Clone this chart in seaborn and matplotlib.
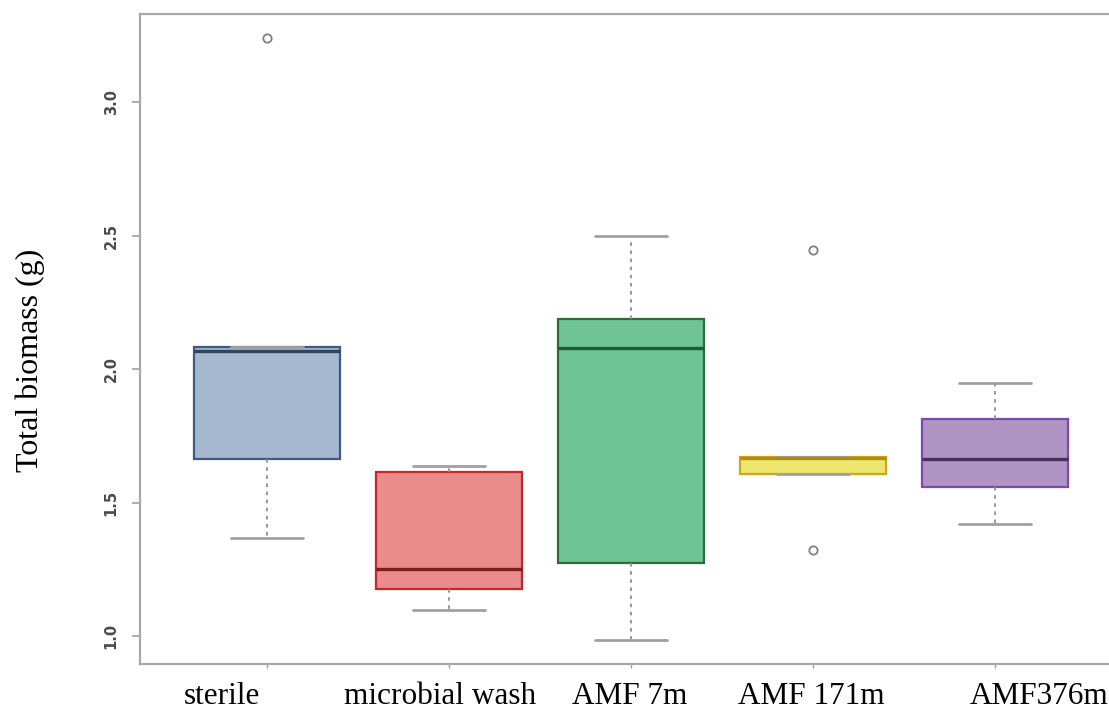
import numpy as np
import pandas as pd
import matplotlib
matplotlib.use("Agg")
import matplotlib.pyplot as plt
import matplotlib.transforms as mtransforms
import seaborn as sns

# ---- data ----
groups = ["sterile", "microbial wash", "AMF 7m", "AMF 171m", "AMF376m"]
sterile = [1.367, 1.663, 2.067, 2.082, 3.240]
microbial_wash = [1.097, 1.176, 1.251, 1.614, 1.637]
amf_7m = [0.985, 1.273, 2.079, 2.187, 2.498]
amf_171m = [1.322, 1.607, 1.665, 1.672, 2.446]
amf_376m = [1.419, 1.558, 1.663, 1.813, 1.948]
yticks = [1.0, 1.5, 2.0, 2.5, 3.0]

fills = ["#A6B8D0", "#EA8C8C", "#6EC494", "#EDE76E", "#AF94C4"]
edges = ["#3E5A7E", "#C4262C", "#2F6A3A", "#D0A41C", "#7F48B0"]
meds = ["#2E4560", "#7A1E1E", "#1F5A2E", "#B08A10", "#4B2D5E"]
# horizontal label offsets (pixels) as placed in the reference
label_dx = [-45, -9, -1, -2, 44]

values = [sterile, microbial_wash, amf_7m, amf_171m, amf_376m]
df = pd.DataFrame({
    "group": np.repeat(groups, [len(v) for v in values]),
    "biomass": np.concatenate(values),
})

sns.set_style("white")
plt.rcParams["font.family"] = ["DejaVu Sans"]

fig = plt.figure(figsize=(11.09, 7.12), dpi=100)
ax = fig.add_axes([139.6 / 1109, 1 - 664 / 712, 5.4 * 182 / 1109, (664 - 14) / 712])

sns.boxplot(
    data=df, x="group", y="biomass", hue="group", order=groups, hue_order=groups,
    palette=dict(zip(groups, fills)), legend=False, width=0.8, whis=1.5,
    saturation=1, ax=ax,
    whiskerprops=dict(color="#909090", linestyle=(0, (2, 2.5)), linewidth=1.3),
    capprops=dict(color="#A0A0A0", linewidth=2.0),
    flierprops=dict(marker="o", markerfacecolor="none", markeredgecolor="#808080",
                    markersize=6, markeredgewidth=1.3),
    medianprops=dict(linewidth=2.4),
    boxprops=dict(linewidth=1.6),
)

for cont, ec, mc in zip(ax.containers, edges, meds):
    for b in cont.boxes:
        b.set_edgecolor(ec)
        b.set_linewidth(1.6)
    for m in cont.medians:
        m.set_color(mc)
        m.set_linewidth(2.4)
    for w in cont.whiskers:
        w.set_color("#909090")
        w.set_linestyle((0, (2, 2.5)))
    for c in cont.caps:
        c.set_color("#A0A0A0")
    for f in cont.fliers:
        f.set_markeredgecolor("#808080")
        f.set_markerfacecolor("none")

ax.set_xlim(-0.7, 4.7)
ax.set_ylim(0.895, 3.33)
ax.set_yticks(yticks)
ax.set_yticklabels([f"{t:.1f}" for t in yticks], rotation=90, va="center",
                   fontsize=10.5, color="#4a4a4a", fontweight="bold")
ax.set_xticks(range(len(groups)))
ax.set_xticklabels([])
ax.tick_params(axis="y", length=6, width=1.2, color="#A0A0A0", pad=9, left=True)
ax.tick_params(axis="x", length=3, width=1.0, color="#A0A0A0", bottom=True)
ax.set_xlabel("")
ax.set_ylabel("")
for s in ax.spines.values():
    s.set_color("#A8A8A8")
    s.set_linewidth(1.6)
    s.set_visible(True)

# category labels, placed as in the reference
base = mtransforms.blended_transform_factory(ax.transData, ax.transAxes)
for i, (g, dx) in enumerate(zip(groups, label_dx)):
    tr = base + mtransforms.ScaledTranslation(dx / 100, 0, fig.dpi_scale_trans)
    ax.text(i, -0.027, g, transform=tr, ha="center", va="top", fontsize=22.5,
            family=["Liberation Serif"], color="black", clip_on=False)

fig.text(30 / 1109, 1 - 360 / 712, "Total biomass (g)", rotation=90,
         ha="center", va="center", fontsize=23, family=["Liberation Serif"], color="black")

fig.savefig("out.png", dpi=100)
